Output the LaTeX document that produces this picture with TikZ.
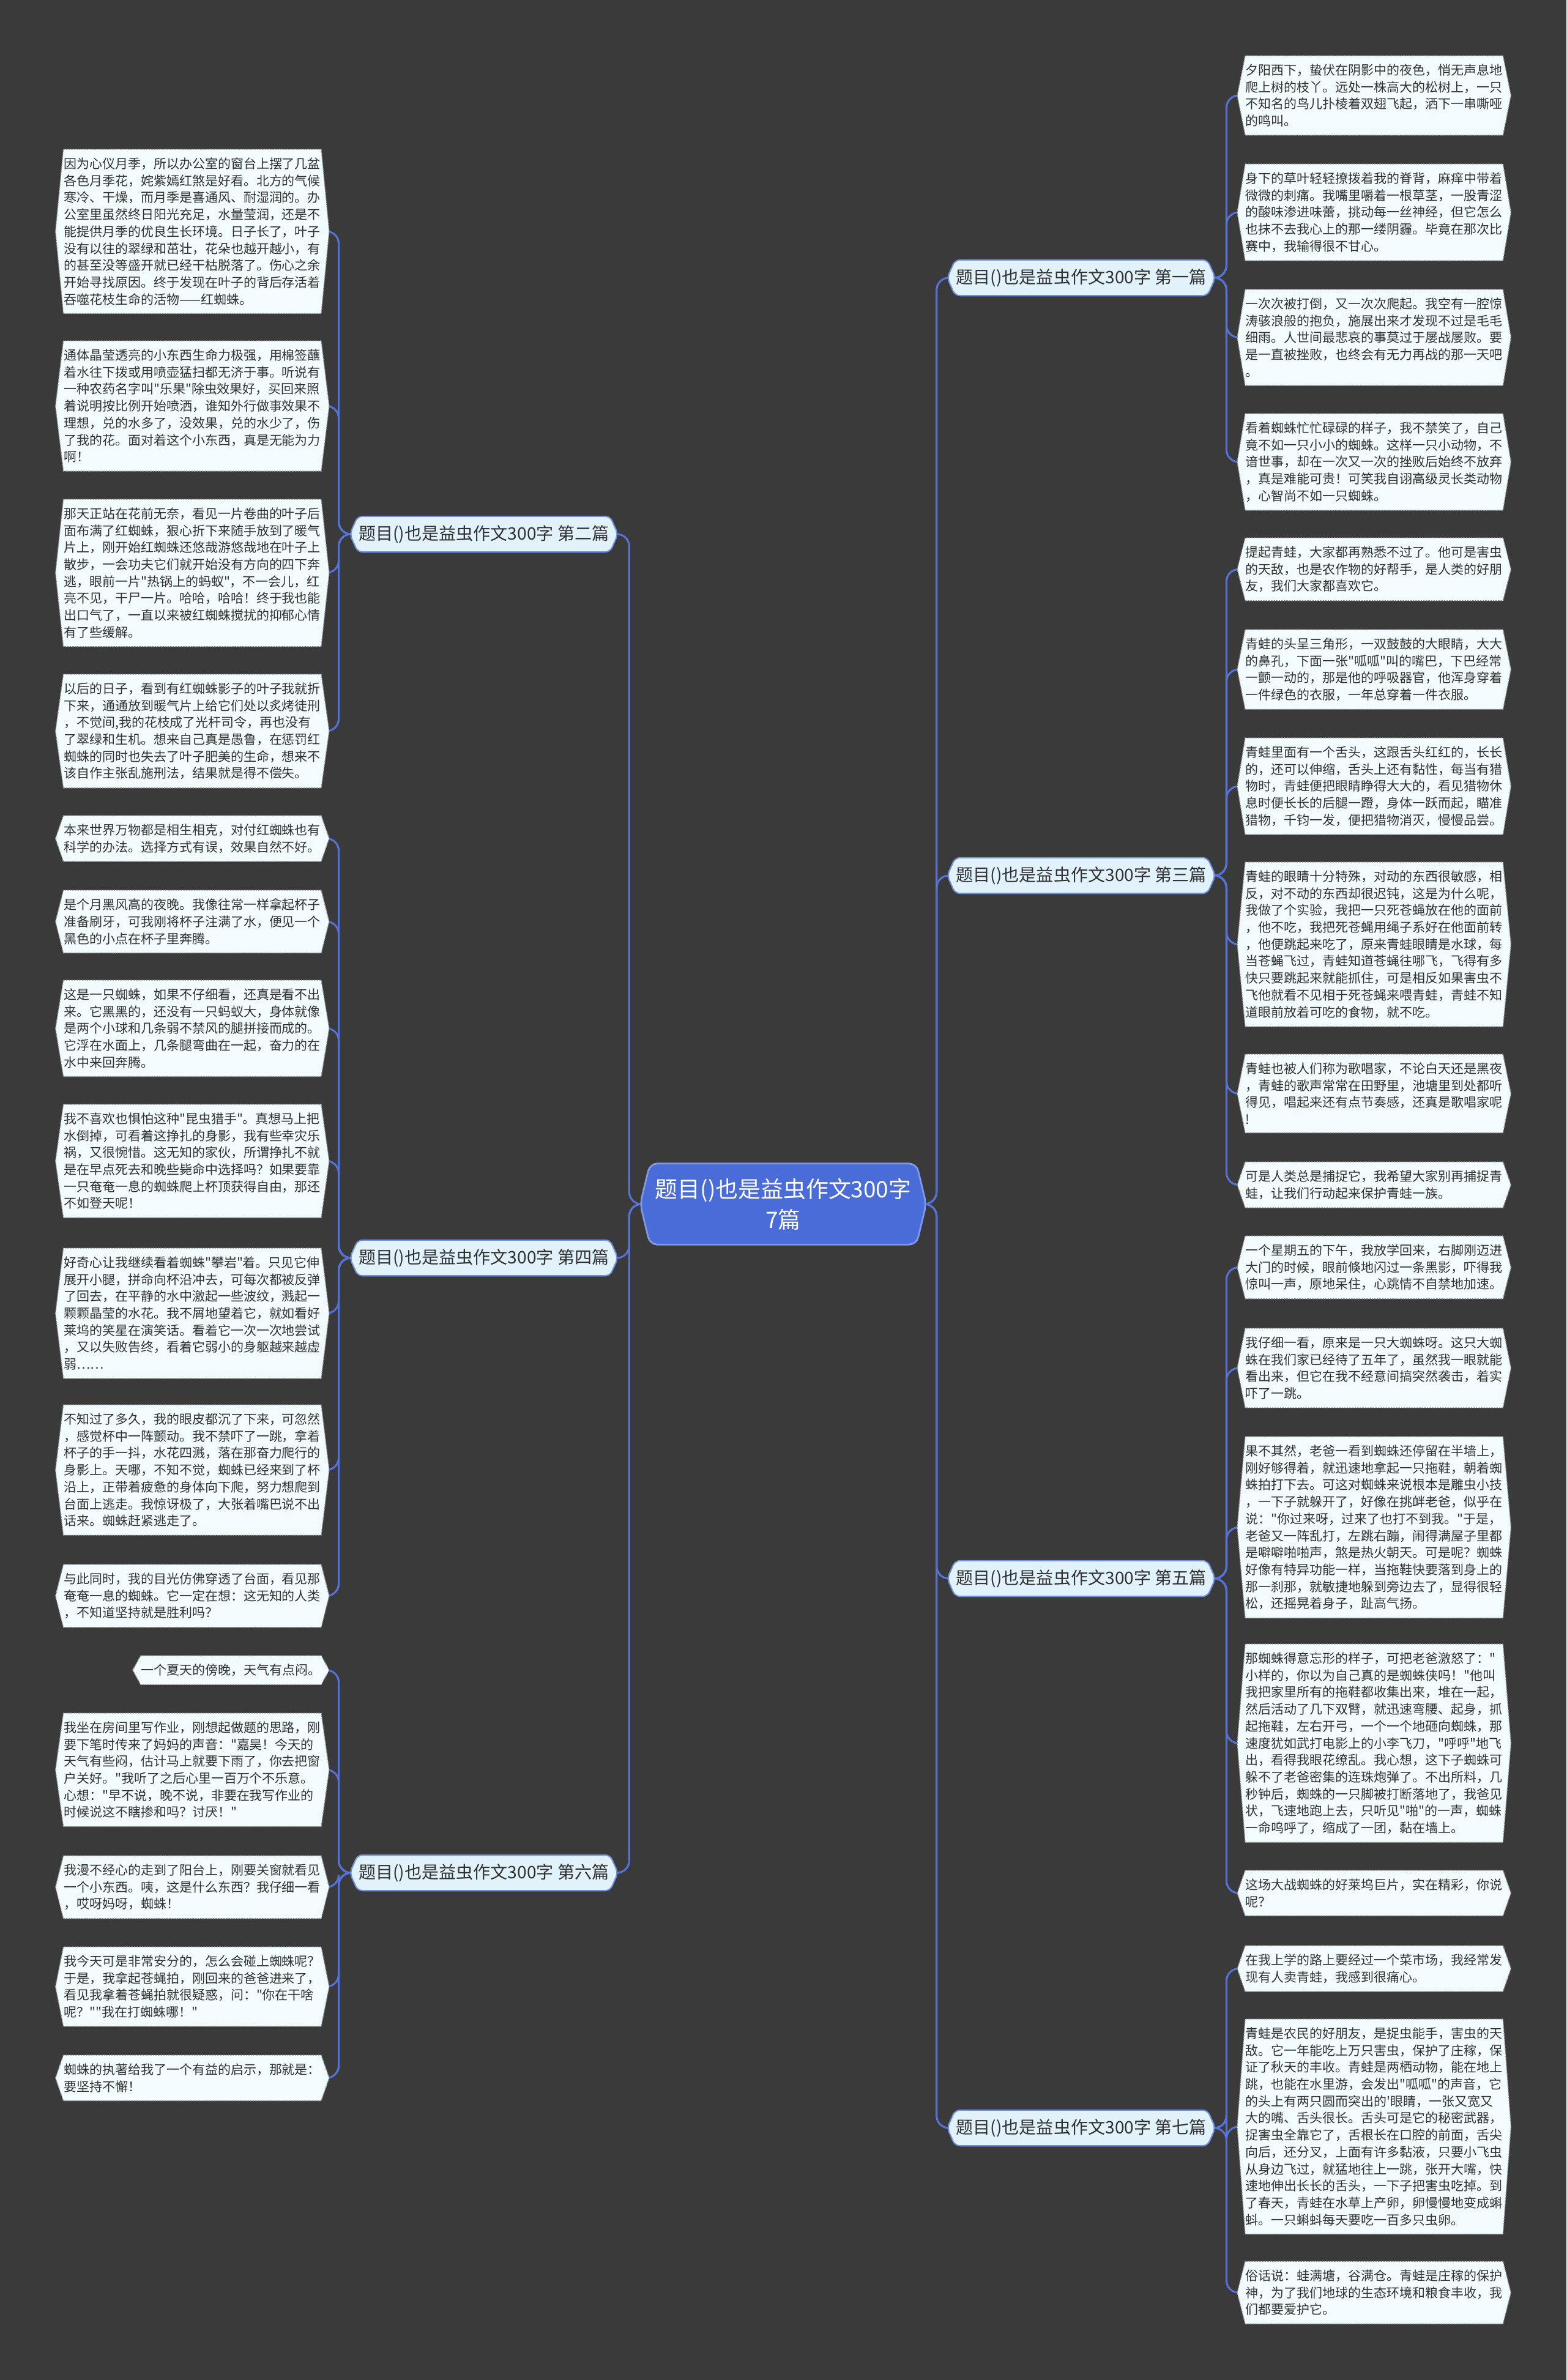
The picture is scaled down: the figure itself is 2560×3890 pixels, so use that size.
\documentclass[tikz,border=0pt]{standalone}
\usepackage{fontspec}
\setmainfont{Noto Sans CJK SC}[Ligatures=TeXOff]
\usetikzlibrary{backgrounds}

\definecolor{bgdark}{HTML}{3A3A3A}
\definecolor{leaffill}{HTML}{F2FCFE}
\definecolor{leafline}{HTML}{8A8F94}
\definecolor{leaftext}{HTML}{303030}
\definecolor{linkblue}{HTML}{5472D8}
\definecolor{rootfill}{HTML}{4A6CD8}
\definecolor{rootline}{HTML}{7F98EA}
\definecolor{branchfill}{HTML}{E2F2FA}
\definecolor{branchline}{HTML}{6F8FE0}

\newcommand{\leafsize}{\fontsize{5.97pt}{7.88pt}\selectfont}
\newcommand{\branchsize}{\fontsize{8pt}{9.6pt}\selectfont}
\newcommand{\rootsize}{\fontsize{10.5pt}{14.2pt}\selectfont}

\tikzset{
  leafbase/.style={inner xsep=1.3mm, inner ysep=1.3mm, align=left,
    font=\leafsize, text=leaftext},
  leaf/.style={leafbase, text width=4.2cm},
  leafframe/.style={fill=leaffill, draw=leafline, line width=0.4pt,
    dash pattern=on 0.7pt off 0.5pt},
  branch/.style={minimum width=4.37cm, minimum height=5.7mm, inner sep=0pt,
    font=\branchsize, text=leaftext},
  branchframe/.style={fill=branchfill, draw=branchline, line width=0.6pt,
    rounded corners=0.8mm},
  root/.style={minimum width=4.66cm, minimum height=1.31cm, inner sep=0pt,
    align=center, font=\rootsize, text=white},
  rootframe/.style={fill=rootfill, draw=rootline, line width=0.8pt,
    rounded corners=1.2mm},
  link/.style={draw=linkblue, line width=0.9pt, rounded corners=2mm}
}

\begin{document}
\begin{tikzpicture}[x=0.1mm,y=-0.1mm,line join=round]
  % Keep the frame of the original picture.
  \useasboundingbox (0,0) rectangle (2560,3890);

  % Centre and the seven essays.
  \node[root] (root) at (1280,1968) {题目()也是益虫作文300字\\7篇};

  \node[branch,anchor=west] (p1) at (1548,454) {题目()也是益虫作文300字 第一篇};
  \node[branch,anchor=east] (p2) at (1010,873) {题目()也是益虫作文300字 第二篇};
  \node[branch,anchor=west] (p3) at (1548,1431) {题目()也是益虫作文300字 第三篇};
  \node[branch,anchor=east] (p4) at (1010,2056) {题目()也是益虫作文300字 第四篇};
  \node[branch,anchor=west] (p5) at (1548,2580) {题目()也是益虫作文300字 第五篇};
  \node[branch,anchor=east] (p6) at (1010,3061) {题目()也是益虫作文300字 第六篇};
  \node[branch,anchor=west] (p7) at (1548,3478) {题目()也是益虫作文300字 第七篇};

  % Left column: essays two, four and six.
  \node[leaf,anchor=north east] (p2a) at (538,244) {因为心仪月季，所以办公室的窗台上摆了几盆\\各色月季花，姹紫嫣红煞是好看。北方的气候\\寒冷、干燥，而月季是喜通风、耐湿润的。办\\公室里虽然终日阳光充足，水量莹润，还是不\\能提供月季的优良生长环境。日子长了，叶子\\没有以往的翠绿和茁壮，花朵也越开越小，有\\的甚至没等盛开就已经干枯脱落了。伤心之余\\开始寻找原因。终于发现在叶子的背后存活着\\吞噬花枝生命的活物——红蜘蛛。};
  \node[leaf,anchor=north east] (p2b) at (538,557) {通体晶莹透亮的小东西生命力极强，用棉签蘸\\着水往下拨或用喷壶猛扫都无济于事。听说有\\一种农药名字叫"乐果"除虫效果好，买回来照\\着说明按比例开始喷洒，谁知外行做事效果不\\理想，兑的水多了，没效果，兑的水少了，伤\\了我的花。面对着这个小东西，真是无能为力\\啊！};
  \node[leaf,anchor=north east] (p2c) at (538,816) {那天正站在花前无奈，看见一片卷曲的叶子后\\面布满了红蜘蛛，狠心折下来随手放到了暖气\\片上，刚开始红蜘蛛还悠哉游悠哉地在叶子上\\散步，一会功夫它们就开始没有方向的四下奔\\逃，眼前一片"热锅上的蚂蚁"，不一会儿，红\\亮不见，干尸一片。哈哈，哈哈！终于我也能\\出口气了，一直以来被红蜘蛛搅扰的抑郁心情\\有了些缓解。};
  \node[leaf,anchor=north east] (p2d) at (538,1102) {以后的日子，看到有红蜘蛛影子的叶子我就折\\下来，通通放到暖气片上给它们处以炙烤徒刑\\，不觉间,我的花枝成了光杆司令，再也没有\\了翠绿和生机。想来自己真是愚鲁，在惩罚红\\蜘蛛的同时也失去了叶子肥美的生命，想来不\\该自作主张乱施刑法，结果就是得不偿失。};

  \node[leaf,anchor=north east] (p4a) at (538,1333) {本来世界万物都是相生相克，对付红蜘蛛也有\\科学的办法。选择方式有误，效果自然不好。};
  \node[leaf,anchor=north east] (p4b) at (538,1455) {是个月黑风高的夜晚。我像往常一样拿起杯子\\准备刷牙，可我刚将杯子注满了水，便见一个\\黑色的小点在杯子里奔腾。};
  \node[leaf,anchor=north east] (p4c) at (538,1602) {这是一只蜘蛛，如果不仔细看，还真是看不出\\来。它黑黑的，还没有一只蚂蚁大，身体就像\\是两个小球和几条弱不禁风的腿拼接而成的。\\它浮在水面上，几条腿弯曲在一起，奋力的在\\水中来回奔腾。};
  \node[leaf,anchor=north east] (p4d) at (538,1805) {我不喜欢也惧怕这种"昆虫猎手"。真想马上把\\水倒掉，可看着这挣扎的身影，我有些幸灾乐\\祸，又很惋惜。这无知的家伙，所谓挣扎不就\\是在早点死去和晚些毙命中选择吗？如果要靠\\一只奄奄一息的蜘蛛爬上杯顶获得自由，那还\\不如登天呢！};
  \node[leaf,anchor=north east] (p4e) at (538,2040) {好奇心让我继续看着蜘蛛"攀岩"着。只见它伸\\展开小腿，拼命向杯沿冲去，可每次都被反弹\\了回去，在平静的水中激起一些波纹，溅起一\\颗颗晶莹的水花。我不屑地望着它，就如看好\\莱坞的笑星在演笑话。看着它一次一次地尝试\\，又以失败告终，看着它弱小的身躯越来越虚\\弱……};
  \node[leaf,anchor=north east] (p4f) at (538,2296) {不知过了多久，我的眼皮都沉了下来，可忽然\\，感觉杯中一阵颤动。我不禁吓了一跳，拿着\\杯子的手一抖，水花四溅，落在那奋力爬行的\\身影上。天哪，不知不觉，蜘蛛已经来到了杯\\沿上，正带着疲惫的身体向下爬，努力想爬到\\台面上逃走。我惊讶极了，大张着嘴巴说不出\\话来。蜘蛛赶紧逃走了。};
  \node[leaf,anchor=north east] (p4g) at (538,2557) {与此同时，我的目光仿佛穿透了台面，看见那\\奄奄一息的蜘蛛。它一定在想：这无知的人类\\，不知道坚持就是胜利吗？};

  \node[leafbase,anchor=north east] (p6a) at (538,2706) {一个夏天的傍晚，天气有点闷。};
  \node[leaf,anchor=north east] (p6b) at (538,2800) {我坐在房间里写作业，刚想起做题的思路，刚\\要下笔时传来了妈妈的声音："嘉昊！今天的\\天气有些闷，估计马上就要下雨了，你去把窗\\户关好。"我听了之后心里一百万个不乐意。\\心想："早不说，晚不说，非要在我写作业的\\时候说这不瞎掺和吗？讨厌！"};
  \node[leaf,anchor=north east] (p6c) at (538,3033) {我漫不经心的走到了阳台上，刚要关窗就看见\\一个小东西。咦，这是什么东西？我仔细一看\\，哎呀妈呀，蜘蛛！};
  \node[leaf,anchor=north east] (p6d) at (538,3182) {我今天可是非常安分的，怎么会碰上蜘蛛呢？\\于是，我拿起苍蝇拍，刚回来的爸爸进来了，\\看见我拿着苍蝇拍就很疑惑，问："你在干啥\\呢？""我在打蜘蛛哪！"};
  \node[leaf,anchor=north east] (p6e) at (538,3359) {蜘蛛的执著给我了一个有益的启示，那就是：\\要坚持不懈！};

  % Right column: essays one, three, five and seven.
  \node[leaf,anchor=north west] (p1a) at (2022,91) {夕阳西下，蛰伏在阴影中的夜色，悄无声息地\\爬上树的枝丫。远处一株高大的松树上，一只\\不知名的鸟儿扑棱着双翅飞起，洒下一串嘶哑\\的鸣叫。};
  \node[leaf,anchor=north west] (p1b) at (2022,268) {身下的草叶轻轻撩拨着我的脊背，麻痒中带着\\微微的刺痛。我嘴里嚼着一根草茎，一股青涩\\的酸味渗进味蕾，挑动每一丝神经，但它怎么\\也抹不去我心上的那一缕阴霾。毕竟在那次比\\赛中，我输得很不甘心。};
  \node[leaf,anchor=north west] (p1c) at (2022,473) {一次次被打倒，又一次次爬起。我空有一腔惊\\涛骇浪般的抱负，施展出来才发现不过是毛毛\\细雨。人世间最悲哀的事莫过于屡战屡败。要\\是一直被挫败，也终会有无力再战的那一天吧\\。};
  \node[leaf,anchor=north west] (p1d) at (2022,676) {看着蜘蛛忙忙碌碌的样子，我不禁笑了，自己\\竟不如一只小小的蜘蛛。这样一只小动物，不\\谙世事，却在一次又一次的挫败后始终不放弃\\，真是难能可贵！可笑我自诩高级灵长类动物\\，心智尚不如一只蜘蛛。};

  \node[leaf,anchor=north west] (p3a) at (2022,879) {提起青蛙，大家都再熟悉不过了。他可是害虫\\的天敌，也是农作物的好帮手，是人类的好朋\\友，我们大家都喜欢它。};
  \node[leaf,anchor=north west] (p3b) at (2022,1029) {青蛙的头呈三角形，一双鼓鼓的大眼睛，大大\\的鼻孔，下面一张"呱呱"叫的嘴巴，下巴经常\\一颤一动的，那是他的呼吸器官，他浑身穿着\\一件绿色的衣服，一年总穿着一件衣服。};
  \node[leaf,anchor=north west] (p3c) at (2022,1206) {青蛙里面有一个舌头，这跟舌头红红的，长长\\的，还可以伸缩，舌头上还有黏性，每当有猎\\物时，青蛙便把眼睛睁得大大的，看见猎物休\\息时便长长的后腿一蹬，身体一跃而起，瞄准\\猎物，千钧一发，便把猎物消灭，慢慢品尝。};
  \node[leaf,anchor=north west] (p3d) at (2022,1409) {青蛙的眼睛十分特殊，对动的东西很敏感，相\\反，对不动的东西却很迟钝，这是为什么呢，\\我做了个实验，我把一只死苍蝇放在他的面前\\，他不吃，我把死苍蝇用绳子系好在他面前转\\，他便跳起来吃了，原来青蛙眼睛是水球，每\\当苍蝇飞过，青蛙知道苍蝇往哪飞，飞得有多\\快只要跳起来就能抓住，可是相反如果害虫不\\飞他就看不见相于死苍蝇来喂青蛙，青蛙不知\\道眼前放着可吃的食物，就不吃。};
  \node[leaf,anchor=north west] (p3e) at (2022,1723) {青蛙也被人们称为歌唱家，不论白天还是黑夜\\，青蛙的歌声常常在田野里，池塘里到处都听\\得见，唱起来还有点节奏感，还真是歌唱家呢\\!};
  \node[leaf,anchor=north west] (p3f) at (2022,1899) {可是人类总是捕捉它，我希望大家别再捕捉青\\蛙，让我们行动起来保护青蛙一族。};

  \node[leaf,anchor=north west] (p5a) at (2022,2020) {一个星期五的下午，我放学回来，右脚刚迈进\\大门的时候，眼前倏地闪过一条黑影，吓得我\\惊叫一声，原地呆住，心跳情不自禁地加速。};
  \node[leaf,anchor=north west] (p5b) at (2022,2171) {我仔细一看，原来是一只大蜘蛛呀。这只大蜘\\蛛在我们家已经待了五年了，虽然我一眼就能\\看出来，但它在我不经意间搞突然袭击，着实\\吓了一跳。};
  \node[leaf,anchor=north west] (p5c) at (2022,2348) {果不其然，老爸一看到蜘蛛还停留在半墙上，\\刚好够得着，就迅速地拿起一只拖鞋，朝着蜘\\蛛拍打下去。可这对蜘蛛来说根本是雕虫小技\\，一下子就躲开了，好像在挑衅老爸，似乎在\\说："你过来呀，过来了也打不到我。"于是，\\老爸又一阵乱打，左跳右蹦，闹得满屋子里都\\是噼噼啪啪声，煞是热火朝天。可是呢？蜘蛛\\好像有特异功能一样，当拖鞋快要落到身上的\\那一刹那，就敏捷地躲到旁边去了，显得很轻\\松，还摇晃着身子，趾高气扬。};
  \node[leaf,anchor=north west] (p5d) at (2022,2687) {那蜘蛛得意忘形的样子，可把老爸激怒了："\\小样的，你以为自己真的是蜘蛛侠吗！"他叫\\我把家里所有的拖鞋都收集出来，堆在一起，\\然后活动了几下双臂，就迅速弯腰、起身，抓\\起拖鞋，左右开弓，一个一个地砸向蜘蛛，那\\速度犹如武打电影上的小李飞刀，"呼呼"地飞\\出，看得我眼花缭乱。我心想，这下子蜘蛛可\\躲不了老爸密集的连珠炮弹了。不出所料，几\\秒钟后，蜘蛛的一只脚被打断落地了，我爸见\\状，飞速地跑上去，只听见"啪"的一声，蜘蛛\\一命呜呼了，缩成了一团，黏在墙上。};
  \node[leaf,anchor=north west] (p5e) at (2022,3057) {这场大战蜘蛛的好莱坞巨片，实在精彩，你说\\呢？};

  \node[leaf,anchor=north west] (p7a) at (2022,3180) {在我上学的路上要经过一个菜市场，我经常发\\现有人卖青蛙，我感到很痛心。};
  \node[leaf,anchor=north west] (p7b) at (2022,3300) {青蛙是农民的好朋友，是捉虫能手，害虫的天\\敌。它一年能吃上万只害虫，保护了庄稼，保\\证了秋天的丰收。青蛙是两栖动物，能在地上\\跳，也能在水里游，会发出"呱呱"的声音，它\\的头上有两只圆而突出的'眼睛，一张又宽又\\大的嘴、舌头很长。舌头可是它的秘密武器，\\捉害虫全靠它了，舌根长在口腔的前面，舌尖\\向后，还分叉，上面有许多黏液，只要小飞虫\\从身边飞过，就猛地往上一跳，张开大嘴，快\\速地伸出长长的舌头，一下子把害虫吃掉。到\\了春天，青蛙在水草上产卵，卵慢慢地变成蝌\\蚪。一只蝌蚪每天要吃一百多只虫卵。};
  \node[leaf,anchor=north west] (p7c) at (2022,3696) {俗话说：蛙满塘，谷满仓。青蛙是庄稼的保护\\神，为了我们地球的生态环境和粮食丰收，我\\们都要爱护它。};

  \begin{pgfonlayer}{background}
    \fill[bgdark] (0,0) rectangle (2560,3890);

    % Links from the centre to each essay.
    \foreach \b in {p1,p3,p5,p7}
      \draw[link] (root.east) -- ++(17,0) |- (\b.west);
    \foreach \b in {p2,p4,p6}
      \draw[link] (root.west) -- ++(-18,0) |- (\b.east);

    % Links from each essay to its paragraphs.
    \foreach \c in {p1a,p1b,p1c,p1d}
      \draw[link] (p1.east) -- ++(18,0) |- (\c.west);
    \foreach \c in {p3a,p3b,p3c,p3d,p3e,p3f}
      \draw[link] (p3.east) -- ++(18,0) |- (\c.west);
    \foreach \c in {p5a,p5b,p5c,p5d,p5e}
      \draw[link] (p5.east) -- ++(18,0) |- (\c.west);
    \foreach \c in {p7a,p7b,p7c}
      \draw[link] (p7.east) -- ++(18,0) |- (\c.west);
    \foreach \c in {p2a,p2b,p2c,p2d}
      \draw[link] (p2.west) -- ++(-18,0) |- (\c.east);
    \foreach \c in {p4a,p4b,p4c,p4d,p4e,p4f,p4g}
      \draw[link] (p4.west) -- ++(-18,0) |- (\c.east);
    \foreach \c in {p6a,p6b,p6c,p6d,p6e}
      \draw[link] (p6.west) -- ++(-18,0) |- (\c.east);

    % Hexagon frames behind the texts.
    \draw[rootframe] (root.west) -- ([xshift=1.6mm]root.north west) -- ([xshift=-1.6mm]root.north east)
      -- (root.east) -- ([xshift=-1.6mm]root.south east) -- ([xshift=1.6mm]root.south west) -- cycle;
    \foreach \n in {p1,p2,p3,p4,p5,p6,p7}
      \draw[branchframe] (\n.west) -- ([xshift=1.3mm]\n.north west) -- ([xshift=-1.3mm]\n.north east)
        -- (\n.east) -- ([xshift=-1.3mm]\n.south east) -- ([xshift=1.3mm]\n.south west) -- cycle;
    \foreach \n in {p1a,p1b,p1c,p1d,p2a,p2b,p2c,p2d,p3a,p3b,p3c,p3d,p3e,p3f,
                    p4a,p4b,p4c,p4d,p4e,p4f,p4g,p5a,p5b,p5c,p5d,p5e,
                    p6a,p6b,p6c,p6d,p6e,p7a,p7b,p7c}
      \draw[leafframe] (\n.west) -- ([xshift=1.3mm]\n.north west) -- ([xshift=-1.3mm]\n.north east)
        -- (\n.east) -- ([xshift=-1.3mm]\n.south east) -- ([xshift=1.3mm]\n.south west) -- cycle;
  \end{pgfonlayer}
\end{tikzpicture}
\end{document}
